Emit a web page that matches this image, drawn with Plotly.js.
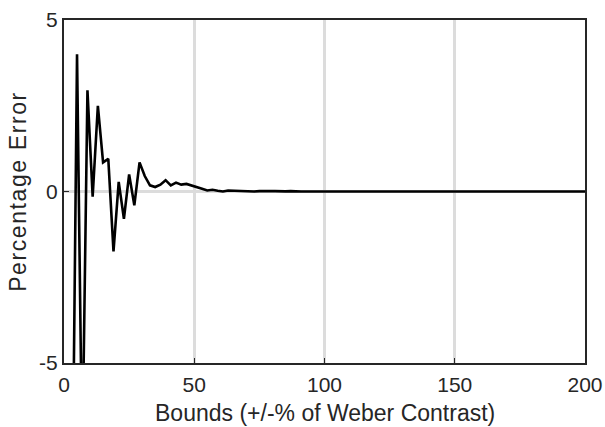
<!DOCTYPE html>
<html><head><meta charset="utf-8">
<script src="https://cdn.plot.ly/plotly-3.0.1.min.js"></script>
<style>html,body{margin:0;padding:0;background:#fff}#c{width:605px;height:427px}.ytitle{letter-spacing:1.6px}</style>
</head><body><div id="c"></div>
<script>
var bounds = [3,5,7,9,11,13,15,17,19,21,23,25,27,29,31,33,35,37,39,41,43,45,47,49,51,53,55,57,59,61,63,65,67,69,71,73,75,77,79,81,83,85,87,89,91,100,120,140,160,180,200];
var pctError = [-11,4.0,-8,2.95,-0.15,2.5,0.85,0.95,-1.75,0.28,-0.8,0.5,-0.4,0.85,0.45,0.18,0.13,0.2,0.33,0.18,0.26,0.2,0.22,0.18,0.13,0.08,0.03,0.05,0.02,0.0,0.03,0.02,0.01,0.02,0.01,0.0,0.01,0.0,0.01,0.01,0.0,0.005,0.01,0.0,0,0,0,0,0,0,0];
var xTicks = [0,50,100,150,200];
var yTicks = [-5,0,5];
var xTitle = 'Bounds (+/-% of Weber Contrast)';
var yTitle = 'Percentage Error';

var fam = 'Liberation Sans, Arial, sans-serif';
var tickFont = {family:fam, size:21, color:'#262626'};
var titleFont = {family:fam, size:23, color:'#262626'};
Plotly.newPlot('c', [{
  x: bounds, y: pctError, type:'scatter', mode:'lines',
  line:{color:'#000', width:2.6}, hoverinfo:'skip'
}], {
  width:605, height:427,
  margin:{l:64, r:20, t:20, b:64},
  paper_bgcolor:'#fff', plot_bgcolor:'#fff',
  font: tickFont,
  showlegend:false,
  annotations:[{text:xTitle, xref:'paper', yref:'paper', x:0.5, y:0, xanchor:'center', yanchor:'top',
    yshift:-35, showarrow:false, font:titleFont}],
  xaxis:{range:[0,200], tickvals:xTicks, ticktext:xTicks.map(String),
    showgrid:true, gridcolor:'#dcdcdc', gridwidth:3, zeroline:false,
    showline:true, linecolor:'#262626', linewidth:2, mirror:true,
    ticks:'inside', ticklen:5, tickcolor:'#262626', tickfont:tickFont, ticklabelstandoff:2},
  yaxis:{range:[-5,5], tickvals:yTicks, ticktext:yTicks.map(String),
    showgrid:true, gridcolor:'#dcdcdc', gridwidth:3, zeroline:false,
    showline:true, linecolor:'#262626', linewidth:2, mirror:true,
    ticks:'inside', ticklen:5, tickcolor:'#262626', tickfont:tickFont,
    title:{text:yTitle, font:titleFont, standoff:6}}
}, {staticPlot:true});
</script></body></html>
